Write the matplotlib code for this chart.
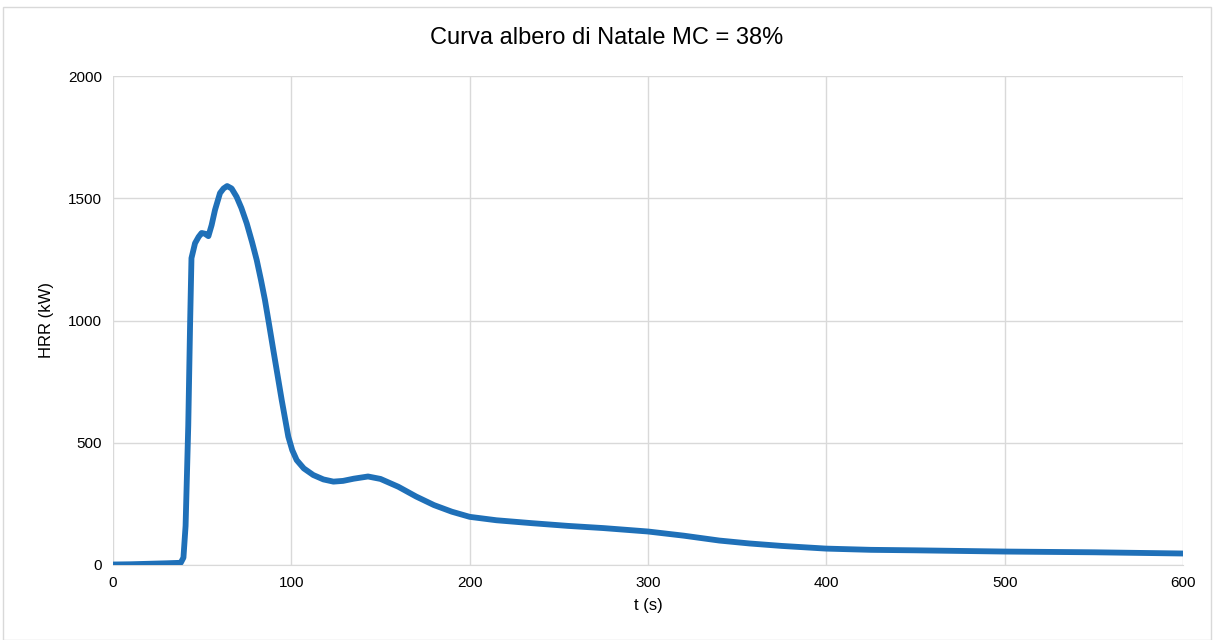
import matplotlib.pyplot as plt

# values
t = [0, 10, 20, 30, 38, 39.5, 40.7, 42.2, 43.2, 44, 46, 48, 49.7, 51.5, 53.5, 55.3, 57.2,
     60, 62, 64, 66.5, 69.3, 72, 75, 78, 80.6, 83, 85.2, 87.5, 89.9, 92.3, 94.6, 96.5,
     98.3, 100.5, 103, 107, 112.3, 118, 123.6, 129, 135, 143, 150, 160, 170, 180, 190,
     200, 215, 235, 255, 275, 300, 320, 340, 357, 375, 400, 425, 450, 500, 550, 600]
hrr = [2, 3, 5, 7, 9, 30, 160, 570, 975, 1255, 1316, 1342, 1358, 1355, 1345, 1390, 1452,
       1521, 1540, 1550, 1540, 1506, 1460, 1397, 1320, 1247, 1165, 1084, 985, 879, 775,
       675, 598, 525, 470, 429, 395, 368, 350, 341, 344, 353, 362, 352, 320, 280, 245,
       218, 197, 183, 171, 160, 151, 137, 120, 100, 88, 78, 67, 62, 60, 55, 52, 47]

xticks = [0, 100, 200, 300, 400, 500, 600]
yticks = [0, 500, 1000, 1500, 2000]

plt.rcParams['font.family'] = ['Liberation Sans', 'DejaVu Sans']

fig = plt.figure(figsize=(12.13, 6.4), dpi=100)
ax = fig.add_axes([113 / 1213, 1 - 565 / 640, 1070 / 1213, 489 / 640])

ax.plot(t, hrr, color='#1f70b8', lw=4.2, solid_joinstyle='round', solid_capstyle='round', zorder=3)

ax.set_xlim(0, 600)
ax.set_ylim(0, 2000)
ax.set_xticks(xticks)
ax.set_yticks(yticks)
ax.grid(True, color='#d9d9d9', lw=1)
ax.set_axisbelow(True)
for s in ['top', 'right', 'left']:
    ax.spines[s].set_visible(False)
ax.spines['bottom'].set_color('#d9d9d9')
ax.tick_params(length=0, labelsize=11, colors='#000000', pad=8)

ax.set_xlabel('t (s)', fontsize=12, labelpad=6)
ax.set_ylabel('HRR (kW)', fontsize=12, labelpad=10)
fig.text(0.5, 1 - 38 / 640, 'Curva albero di Natale MC = 38%', ha='center', va='center', fontsize=17)

# outer chart border
fig.patches.append(plt.Rectangle((3 / 1213, 0), 1208 / 1213, 1 - 7 / 640, transform=fig.transFigure,
                                 fill=False, edgecolor='#d9d9d9', lw=1))

fig.savefig('out.png', dpi=100)
